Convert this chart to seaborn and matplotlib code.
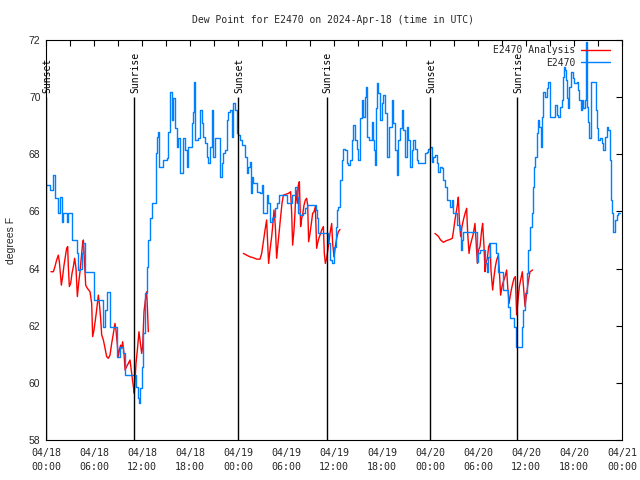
import matplotlib
matplotlib.use("Agg")
import matplotlib.pyplot as plt
import seaborn as sns
from matplotlib.lines import Line2D
from matplotlib.ticker import MultipleLocator

# ---------------- data (hours since 2024-04-18 00:00 UTC) ----------------
blue_hours = [0.0, 0.5, 0.9, 1.12, 1.54, 1.75, 1.96, 2.17, 2.58, 2.79, 3.21, 3.92, 4.04, 4.25,
              4.46, 4.67, 4.88, 6.0, 7.08, 7.38, 7.58, 8.0, 8.92, 9.25, 9.58, 9.67, 9.88, 11.25,
              11.46, 11.58, 11.75, 11.96, 12.17, 12.38, 12.58, 12.79, 13.0, 13.21, 13.7, 13.92,
              14.04, 14.17, 14.67, 15.08, 15.29, 15.5, 15.71, 15.92, 16.12, 16.33, 16.54, 16.75,
              17.17, 17.38, 17.58, 17.79, 18.21, 18.42, 18.54, 18.67, 19.04, 19.25, 19.46, 19.67,
              19.88, 20.08, 20.29, 20.5, 20.71, 20.83, 21.12, 21.75, 21.96, 22.17, 22.38, 22.58,
              22.79, 23.0, 23.21, 23.42, 23.62, 23.83, 24.04, 24.25, 24.46, 24.88, 25.08, 25.29,
              25.5, 25.58, 25.71, 25.92, 26.33, 26.75, 26.96, 27.17, 27.58, 27.79, 28.0, 28.21,
              28.42, 28.62, 28.83, 29.17, 30.17, 30.71, 31.12, 31.33, 31.54, 31.75, 32.17, 32.38,
              32.58, 33.75, 33.92, 34.04, 35.29, 35.5, 35.71, 36.0, 36.25, 36.42, 36.54, 36.75,
              36.96, 37.17, 37.38, 37.58, 37.79, 38.0, 38.21, 38.42, 38.62, 38.83, 39.04, 39.25,
              39.46, 39.67, 39.88, 40.0, 40.17, 40.42, 40.71, 40.83, 41.0, 41.12, 41.25, 41.42,
              41.54, 41.75, 41.96, 42.17, 42.38, 42.58, 42.67, 42.92, 43.21, 43.42, 43.62, 43.83,
              44.04, 44.25, 44.46, 44.67, 44.88, 45.08, 45.29, 45.5, 45.71, 45.92, 46.12, 46.33,
              46.54, 47.38, 47.58, 47.79, 48.0, 48.21, 48.42, 48.62, 48.83, 49.04, 49.25, 49.46,
              49.67, 49.88, 50.08, 50.5, 50.71, 50.92, 51.33, 51.75, 51.83, 51.96, 52.17, 53.83,
              54.04, 54.25, 54.88, 55.08, 55.29, 55.5, 56.25, 56.54, 57.08, 57.79, 58.0, 58.54,
              58.75, 59.46, 59.67, 59.88, 60.08, 60.29, 60.5, 60.71, 60.92, 61.0, 61.12, 61.33,
              61.54, 61.67, 61.83, 61.96, 62.08, 62.38, 62.58, 62.79, 63.0, 63.62, 63.83, 64.04,
              64.25, 64.46, 64.58, 64.75, 64.88, 65.0, 65.17, 65.29, 65.42, 65.58, 65.83, 66.0,
              66.33, 66.54, 66.67, 66.83, 66.96, 67.17, 67.38, 67.5, 67.67, 67.79, 67.92, 68.08,
              68.75, 68.83, 69.04, 69.25, 69.46, 69.67, 69.88, 70.08, 70.29, 70.5, 70.58, 70.71,
              70.92, 71.12, 71.33, 71.54, 71.8]
blue_dewpoint = [66.92, 66.75, 67.27, 66.46, 65.93, 66.52, 65.64, 65.93, 65.64, 65.93, 65.0, 64.53,
                 63.95, 63.99, 64.53, 64.9, 63.89, 62.9, 61.97, 62.55, 63.19, 61.97, 60.92, 61.27,
                 61.15, 61.03, 60.27, 59.87, 59.46, 59.28, 59.82, 60.57, 61.73, 63.13, 64.07, 65.0,
                 65.76, 66.28, 68.03, 68.62, 68.79, 67.57, 67.8, 67.86, 68.79, 70.19, 69.2, 69.96,
                 68.91, 68.27, 68.56, 67.33, 68.56, 68.15, 67.57, 68.27, 69.08, 69.49, 70.54, 68.5,
                 68.56, 69.55, 69.08, 68.62, 68.38, 67.92, 67.68, 68.27, 69.55, 67.92, 68.56, 67.22,
                 67.68, 68.03, 68.15, 69.2, 69.49, 69.55, 68.62, 69.78, 69.55, 68.73, 68.67, 68.5,
                 68.32, 67.92, 67.33, 67.57, 67.74, 66.63, 67.22, 66.98, 66.69, 66.63, 66.92, 65.93,
                 66.57, 66.28, 65.64, 65.76, 65.82, 66.11, 66.28, 66.57, 66.28, 66.57, 66.87, 66.51,
                 65.93, 65.88, 65.93, 66.11, 66.22, 66.05, 65.76, 65.23, 64.88, 64.3, 64.18, 64.77,
                 65.47, 66.05, 66.17, 67.1, 67.8, 68.2, 68.15, 67.68, 67.62, 67.8, 68.5, 69.02,
                 68.5, 68.2, 67.8, 69.26, 69.9, 69.32, 70.02, 70.37, 68.62, 68.5, 69.14, 68.5,
                 68.15, 67.62, 69.61, 70.48, 70.13, 69.2, 69.78, 70.07, 69.43, 68.38, 67.92, 68.97,
                 69.9, 69.08, 68.15, 67.27, 68.5, 68.91, 69.55, 68.85, 67.92, 68.97, 68.5, 67.57,
                 68.15, 68.5, 68.2, 67.8, 67.68, 68.03, 68.09, 68.2, 68.27, 67.74, 67.92, 67.97,
                 67.68, 67.39, 67.57, 67.51, 67.1, 66.87, 66.4, 66.17, 66.4, 65.93, 65.52, 65.35,
                 64.65, 65.0, 65.29, 64.24, 64.53, 64.65, 64.18, 63.89, 64.42, 64.9, 64.53, 63.89,
                 63.25, 62.67, 62.26, 61.97, 61.27, 61.97, 62.55, 63.13, 63.84, 64.65, 65.47, 65.93,
                 66.87, 67.57, 67.92, 68.73, 69.2, 68.97, 68.27, 69.32, 70.19, 70.02, 70.31, 70.54,
                 69.32, 69.72, 69.37, 69.32, 69.67, 69.9, 70.72, 71.07, 70.95, 70.6, 69.96, 69.61,
                 70.37, 70.89, 70.66, 70.48, 70.54, 70.25, 69.9, 69.55, 69.9, 69.61, 69.9, 71.94,
                 69.67, 69.14, 68.56, 70.54, 69.55, 68.91, 68.5, 68.56, 68.38, 68.15, 68.62, 68.97,
                 68.85, 67.8, 66.4, 65.93, 65.29, 65.7, 65.87, 65.93, 65.93]

red1_hours = [0.62, 0.92, 1.12, 1.33, 1.54, 1.67, 1.83, 1.92, 2.08, 2.25, 2.42, 2.58, 2.71, 2.79,
              2.92, 3.08, 3.25, 3.42, 3.58, 3.75, 3.92, 4.08, 4.25, 4.46, 4.58, 4.67, 4.79, 4.96,
              5.17, 5.5, 5.71, 5.83, 6.0, 6.17, 6.33, 6.54, 6.67, 6.83, 6.96, 7.17, 7.38, 7.58,
              7.79, 8.0, 8.21, 8.42, 8.62, 8.75, 8.92, 9.04, 9.17, 9.33, 9.46, 9.58, 9.75, 9.88,
              10.08, 10.29, 10.5, 10.71, 10.92, 11.04, 11.25, 11.42, 11.62, 11.75, 11.96, 12.08,
              12.25, 12.42, 12.58, 12.67, 12.79]
red1_dewpoint = [63.89, 63.89, 64.07, 64.3, 64.47, 64.24, 63.72, 63.42, 63.72, 64.12, 64.42, 64.71,
                 64.77, 64.07, 63.37, 63.48, 63.83, 64.07, 64.36, 64.01, 63.02, 63.48, 63.89, 64.53,
                 64.88, 65.0, 64.36, 63.42, 63.31, 63.19, 62.78, 61.62, 61.85, 62.2, 62.55, 63.07,
                 62.78, 62.26, 61.68, 61.5, 61.21, 60.92, 60.86, 60.97, 61.38, 61.73, 62.08, 61.85,
                 61.32, 60.92, 61.15, 61.32, 61.21, 61.44, 61.03, 60.45, 60.57, 60.68, 60.8, 60.33,
                 59.87, 59.63, 60.68, 61.15, 61.79, 61.5, 61.03, 61.27, 62.49, 62.9, 63.19, 62.67,
                 61.79]

red2_hours = [24.67, 25.08, 25.5, 25.92, 26.33, 26.75, 26.96, 27.17, 27.38, 27.58, 27.71, 27.83,
              28.0, 28.21, 28.33, 28.5, 28.67, 28.83, 29.0, 29.17, 29.33, 29.5, 29.67, 30.29,
              30.58, 30.71, 30.83, 31.0, 31.12, 31.25, 31.42, 31.54, 31.67, 31.83, 31.96, 32.08,
              32.25, 32.42, 32.58, 32.71, 32.83, 33.0, 33.17, 33.33, 33.5, 33.67, 33.83, 34.04,
              34.25, 34.46, 34.67, 34.79, 34.92, 35.08, 35.29, 35.5, 35.71, 35.83, 36.0, 36.17,
              36.33, 36.54, 36.75]
red2_dewpoint = [64.53, 64.47, 64.41, 64.38, 64.33, 64.33, 64.53, 64.94, 65.35, 65.7, 64.88, 64.18,
                 64.65, 65.12, 65.47, 66.05, 65.47, 64.36, 64.88, 65.35, 65.82, 66.28, 66.57, 66.63,
                 66.69, 65.93, 64.82, 65.35, 65.93, 66.75, 66.28, 66.92, 67.04, 65.47, 65.76, 65.88,
                 66.22, 66.4, 66.46, 66.22, 64.94, 65.23, 65.58, 65.93, 65.99, 66.17, 64.71, 65.0,
                 65.17, 65.35, 65.47, 64.53, 64.18, 64.36, 64.77, 65.23, 65.58, 64.88, 64.41, 64.77,
                 65.06, 65.29, 65.37]

red3_hours = [48.62, 49.04, 49.33, 49.67, 50.08, 50.5, 50.79, 50.92, 51.12, 51.25, 51.42, 51.54,
              51.67, 51.83, 52.0, 52.17, 52.38, 52.58, 52.71, 52.88, 53.0, 53.21, 53.42, 53.62,
              53.75, 53.92, 54.08, 54.25, 54.46, 54.58, 54.75, 54.88, 55.0, 55.17, 55.33, 55.5,
              55.62, 55.83, 56.0, 56.17, 56.33, 56.54, 56.67, 56.83, 57.0, 57.17, 57.38, 57.58,
              57.71, 57.88, 58.08, 58.25, 58.5, 58.67, 58.83, 59.0, 59.17, 59.33, 59.54, 59.67,
              59.88, 60.08, 60.29, 60.5, 60.83]
red3_dewpoint = [65.23, 65.13, 65.0, 64.92, 64.98, 65.02, 65.06, 65.29, 65.7, 65.93, 66.22, 66.5,
                 65.7, 65.12, 65.47, 65.7, 65.93, 66.11, 65.23, 64.53, 64.77, 65.0, 65.23, 65.58,
                 65.0, 64.18, 64.65, 64.77, 65.35, 65.58, 64.77, 63.89, 64.18, 64.36, 64.77, 64.88,
                 63.95, 63.25, 63.72, 64.07, 64.3, 64.47, 63.89, 63.07, 63.37, 63.54, 63.72, 63.95,
                 63.37, 62.78, 63.13, 63.37, 63.66, 63.72, 62.38, 62.9, 63.37, 63.6, 63.89, 63.42,
                 62.67, 63.13, 63.54, 63.89, 63.95]

sun_event_hours = [0.05, 11.05, 24.05, 35.08, 48.05, 58.92]
sun_event_labels = ["Sunset", "Sunrise", "Sunset", "Sunrise", "Sunset", "Sunrise"]

x_tick_hours = [0, 6, 12, 18, 24, 30, 36, 42, 48, 54, 60, 66, 72]
x_tick_labels = ["04/18\n00:00", "04/18\n06:00", "04/18\n12:00", "04/18\n18:00",
                 "04/19\n00:00", "04/19\n06:00", "04/19\n12:00", "04/19\n18:00",
                 "04/20\n00:00", "04/20\n06:00", "04/20\n12:00", "04/20\n18:00",
                 "04/21\n00:00"]
y_ticks = [58, 60, 62, 64, 66, 68, 70, 72]

title = "Dew Point for E2470 on 2024-Apr-18 (time in UTC)"
series_labels = ["E2470 Analysis", "E2470"]

BLUE = "#0080ff"
RED = "#ff0000"

# ---------------- plot ----------------
sns.set_theme(style="white")
plt.rcParams['font.family'] = ['DejaVu Sans Mono']
plt.rcParams['axes.edgecolor'] = 'black'
plt.rcParams['axes.linewidth'] = 0.8

fig = plt.figure(figsize=(6.4, 4.8), dpi=100)
ax = fig.add_axes([46 / 640, 40 / 480, 576 / 640, 400 / 480])

for hrs, vals in [(red1_hours, red1_dewpoint), (red2_hours, red2_dewpoint), (red3_hours, red3_dewpoint)]:
    sns.lineplot(x=hrs, y=vals, ax=ax, color=RED, lw=1.0, estimator=None, sort=False)

sns.lineplot(x=blue_hours, y=blue_dewpoint, ax=ax, color=BLUE, lw=1.0,
             drawstyle='steps-post', estimator=None, sort=False)

ax.vlines(sun_event_hours, 58, 70, color='black', lw=1.0)
for h, lab in zip(sun_event_hours, sun_event_labels):
    ax.text(h + 0.15, 70.15, lab, rotation=90, ha='center', va='bottom', fontsize=7,
            color='black')

ax.set_xlim(0, 72)
ax.set_ylim(58, 72)
ax.set_xticks(x_tick_hours)
ax.set_xticklabels(x_tick_labels, fontsize=7.2, linespacing=1.6)
ax.xaxis.set_minor_locator(MultipleLocator(3))
ax.set_yticks(y_ticks)
ax.set_yticklabels([str(v) for v in y_ticks], fontsize=7.5, fontfamily='Liberation Sans')
ax.tick_params(which='both', direction='in', top=True, right=True, length=4, width=0.8,
               color='black')
ax.tick_params(axis='x', pad=5.5)
ax.tick_params(axis='y', pad=4)
ax.set_xlabel("")
ax.set_ylabel("degrees F", fontsize=7.5, fontfamily='Liberation Sans')
ax.yaxis.set_label_coords(-30 / 576, 0.5)

fig.text(333 / 640, 1 - 20 / 480, title, ha='center', va='center', fontsize=7)

handles = [Line2D([], [], color=RED, lw=1.0), Line2D([], [], color=BLUE, lw=1.0)]
ax.legend(handles, series_labels, loc='upper right', frameon=False, markerfirst=False,
          fontsize=7, handlelength=3.0, handletextpad=0.6, borderaxespad=0.3,
          labelspacing=0.25, bbox_to_anchor=(1 - 5 / 576, 1 + 1.5 / 400))

fig.savefig("out.png", dpi=100)
